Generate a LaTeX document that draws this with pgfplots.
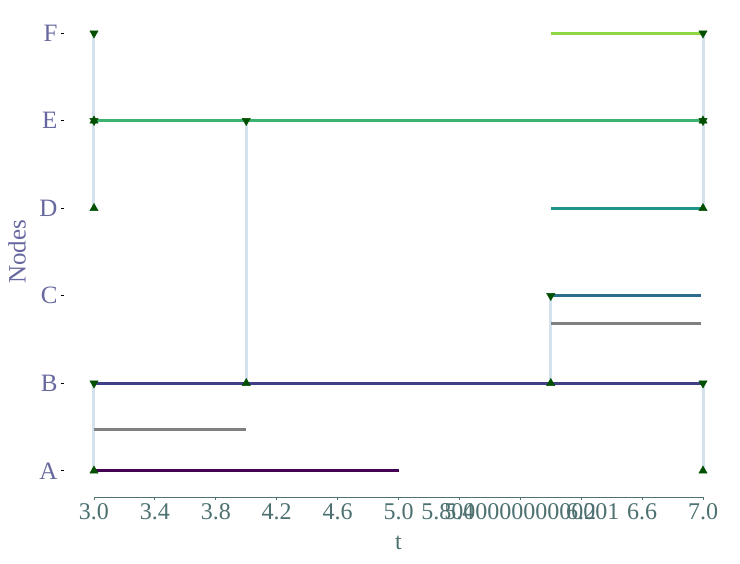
\documentclass[border=0pt]{standalone}
\usepackage{pgfplots}
\pgfplotsset{compat=1.18}
\usepackage{fontspec}
\setmainfont{Liberation Serif}
\definecolor{xcol}{RGB}{77,112,112}
\definecolor{ycol}{RGB}{104,104,160}
\definecolor{vcol}{RGB}{212,226,238}
\definecolor{mcol}{RGB}{0,80,0}
\definecolor{cA}{RGB}{68,1,84}
\definecolor{cB}{RGB}{64,62,133}
\definecolor{cC}{RGB}{45,110,142}
\definecolor{cD}{RGB}{33,148,138}
\definecolor{cE}{RGB}{60,179,113}
\definecolor{cF}{RGB}{143,215,68}
\definecolor{cG}{RGB}{128,128,128}
\begin{document}
\begin{tikzpicture}
\path[use as bounding box] (-94bp,-67bp) rectangle (646bp,497bp);
\begin{axis}[at={(0,0)}, anchor=south west, scale only axis,
  width=609bp, height=490bp,
  xmin=3, xmax=7, ymin=-0.3, ymax=5.3,
  axis lines*=left, separate axis lines,
  y axis line style={draw=none},
  x axis line style={xcol, line width=0.8bp},
  xtick={3,3.4,3.8,4.2,4.6,5,5.4,5.8,6.2,6.6,7},
  xticklabels={3.0,3.4,3.8,4.2,4.6,5.0,5.4,5.800000000000001,6.2,6.6,7.0},
  ytick={0,1,2,3,4,5},
  yticklabels={A,B,C,D,E,F},
  tick align=outside, major tick length=3bp,
  x tick style={xcol, line width=0.8bp},
  y tick style={black, line width=0.8bp, xshift=-30bp},
  xticklabel style={xcol, font=\fontsize{24bp}{28bp}\selectfont},
  yticklabel style={ycol, font=\fontsize{25bp}{28bp}\selectfont, xshift=-30bp},
  xlabel={t}, ylabel={Nodes},
  xlabel style={xcol, font=\fontsize{24bp}{28bp}\selectfont, at={(axis description cs:0.5,0)}, anchor=center, yshift=-46bp},
  ylabel style={ycol, font=\fontsize{25bp}{28bp}\selectfont, at={(axis description cs:0,0.5)}, anchor=center, yshift=77bp},
  clip=false,
]
% vertical event lines
\addplot[vcol, line width=3bp] coordinates {(3,0) (3,1)};
\addplot[vcol, line width=3bp] coordinates {(3,3) (3,5)};
\addplot[vcol, line width=3bp] coordinates {(4,1) (4,4)};
\addplot[vcol, line width=3bp] coordinates {(6,1) (6,2)};
\addplot[vcol, line width=3bp] coordinates {(7,0) (7,1)};
\addplot[vcol, line width=3bp] coordinates {(7,3) (7,5)};
% horizontal node lines
\addplot[cA, line width=3bp] coordinates {(3,0) (5,0)};
\addplot[cG, line width=3bp] coordinates {(3,0.47) (4,0.47)};
\addplot[cB, line width=3bp] coordinates {(3,1) (7,1)};
\addplot[cG, line width=3bp] coordinates {(6,1.68) (6.99,1.68)};
\addplot[cC, line width=3bp] coordinates {(6,2) (6.99,2)};
\addplot[cD, line width=3bp] coordinates {(6,3) (7,3)};
\addplot[cE, line width=3bp] coordinates {(3,4) (7,4)};
\addplot[cF, line width=3bp] coordinates {(6,5) (7,5)};
% markers
\addplot[only marks, mark=triangle*, mark size=4.8bp, mcol, mark options={fill=mcol}]
  coordinates {(3,0) (3,3) (3,4) (4,1) (6,1) (7,0) (7,3) (7,4)};
\addplot[only marks, mark=triangle*, mark size=4.8bp, mcol, mark options={fill=mcol, rotate=180}]
  coordinates {(3,1) (3,4) (3,5) (4,4) (6,2) (7,1) (7,4) (7,5)};
\end{axis}
\end{tikzpicture}
\end{document}
